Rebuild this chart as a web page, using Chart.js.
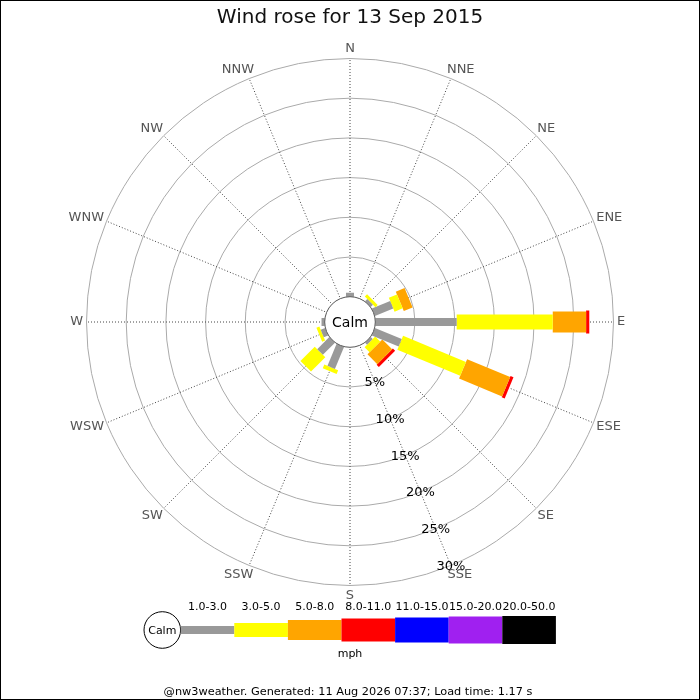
<!DOCTYPE html>
<html lang="en-GB">
<head>
  <meta charset="utf-8">
  <title>Wind rose for 13 Sep 2015</title>
  <script src="https://cdn.jsdelivr.net/npm/chart.js@4.4.1/dist/chart.umd.min.js"></script>
  <style>
    body { margin: 0; background: #fff; }
    canvas { display: block; }
  </style>
</head>
<body>
  <canvas id="rose" width="700" height="700"></canvas>

  <script>

    // compass points, clockwise from north
    let directions = ['N', 'NNE', 'NE', 'ENE', 'E', 'ESE', 'SE', 'SSE',
                      'S', 'SSW', 'SW', 'WSW', 'W', 'WNW', 'NW', 'NNW'];

    // % of the day per direction, one array per speed class (mph)
    let speed1to3   = [0.5, 0, 0.4, 2.5, 10.25, 3.66, 0.35, 0, 0, 3.0, 2.15, 0.6, 0.4, 0, 0, 0];
    let speed3to5   = [0, 0, 0.4, 1.1, 12.1, 8.57, 0.9, 0, 0, 0.5, 2.55, 0.4, 0, 0, 0, 0];
    let speed5to8   = [0, 0, 0, 1.2, 4.2, 5.87, 1.75, 0, 0, 0, 0, 0, 0, 0, 0, 0];
    let speed8to11  = [0, 0, 0, 0, 0.4, 0.4, 0.4, 0, 0, 0, 0, 0, 0, 0, 0, 0];
    let speed11to15 = [0, 0, 0, 0, 0, 0, 0, 0, 0, 0, 0, 0, 0, 0, 0, 0];
    let speed15to20 = [0, 0, 0, 0, 0, 0, 0, 0, 0, 0, 0, 0, 0, 0, 0, 0];
    let speed20to50 = [0, 0, 0, 0, 0, 0, 0, 0, 0, 0, 0, 0, 0, 0, 0, 0];

    let speedLabels = ['1.0-3.0', '3.0-5.0', '5.0-8.0', '8.0-11.0', '11.0-15.0', '15.0-20.0', '20.0-50.0'];
    let ringTicks = [5, 10, 15, 20, 25, 30];

    let speedSeries = [speed1to3, speed3to5, speed5to8, speed8to11, speed11to15, speed15to20, speed20to50];

    // look
    let speedColors = ['#999999', '#ffff00', '#ffa500', '#ff0000', '#0000ff', '#a020f0', '#000000'];
    let barWidths = [8, 15, 21, 23, 25, 27, 28];
    let keyHeights = [8, 14, 20, 23, 25, 27, 28];
    let FONT = '"DejaVu Sans", sans-serif';

    // geometry of the rose
    let CX = 350, CY = 322;
    let PX_PER_PCT = 7.94;
    let CALM = 25.3 / PX_PER_PCT;   // calm circle radius, in % units
    let SPAN = 40;
    let ringMax = ringTicks[ringTicks.length - 1];

    function polar(u, deg) {
      let a = deg * Math.PI / 180;
      return {x: u * Math.sin(a), y: u * Math.cos(a)};
    }

    let datasets = [];
    directions.forEach(function(dir, i) {
      let angle = i * 360 / directions.length;
      let cum = CALM;
      speedSeries.forEach(function(series, c) {
        let v = series[i];
        if (v > 0) {
          datasets.push({
            type: 'line',
            label: dir + ' ' + speedLabels[c],
            data: [polar(cum, angle), polar(cum + v, angle)],
            borderColor: speedColors[c],
            borderWidth: barWidths[c],
            borderCapStyle: 'butt',
            pointRadius: 0,
            showLine: true,
            fill: false
          });
        }
        cum += v;
      });
    });

    function toPx(chart, p) {
      return [chart.scales.x.getPixelForValue(p.x), chart.scales.y.getPixelForValue(p.y)];
    }

    function radiusPx(chart, u) {
      return chart.scales.x.getPixelForValue(u) - chart.scales.x.getPixelForValue(0);
    }

    let roseGrid = {
      id: 'roseGrid',
      beforeDatasetsDraw(chart) {
        let ctx = chart.ctx;
        let c = toPx(chart, {x: 0, y: 0});
        ctx.save();

        // rings
        ctx.strokeStyle = '#aaaaaa';
        ctx.lineWidth = 1;
        ringTicks.forEach(function(t) {
          ctx.beginPath();
          ctx.arc(c[0], c[1], radiusPx(chart, CALM + t), 0, 2 * Math.PI);
          ctx.stroke();
        });

        // spokes
        ctx.strokeStyle = '#444444';
        ctx.setLineDash([1, 2]);
        directions.forEach(function(dir, i) {
          let p = toPx(chart, polar(CALM + ringMax, i * 360 / directions.length));
          ctx.beginPath();
          ctx.moveTo(c[0], c[1]);
          ctx.lineTo(p[0], p[1]);
          ctx.stroke();
        });
        ctx.setLineDash([]);

        // compass labels, pushed out by their own size
        ctx.font = '13px ' + FONT;
        ctx.fillStyle = '#555555';
        ctx.textAlign = 'center';
        ctx.textBaseline = 'middle';
        let r0 = radiusPx(chart, CALM + ringMax) + 3.5;
        directions.forEach(function(dir, i) {
          let a = i * 2 * Math.PI / directions.length;
          let s = Math.sin(a), co = Math.cos(a);
          let w = ctx.measureText(dir).width;
          let x = c[0] + r0 * s + Math.sign(s) * w / 2 * Math.sqrt(Math.abs(s));
          let y = c[1] - r0 * co - Math.sign(co) * 6.5 * Math.abs(co);
          ctx.fillText(dir, x, y);
        });

        // ring values along SSE
        ctx.fillStyle = '#000000';
        ringTicks.forEach(function(t) {
          let p = toPx(chart, polar(CALM + t, 157.5));
          ctx.fillText(t + '%', p[0], p[1] + 1);
        });
        ctx.restore();
      },
      afterDatasetsDraw(chart) {
        let ctx = chart.ctx;
        let c = toPx(chart, {x: 0, y: 0});
        ctx.save();

        // calm circle
        ctx.beginPath();
        ctx.arc(c[0], c[1], radiusPx(chart, CALM), 0, 2 * Math.PI);
        ctx.fillStyle = '#ffffff';
        ctx.fill();
        ctx.strokeStyle = '#555555';
        ctx.lineWidth = 1;
        ctx.stroke();
        ctx.fillStyle = '#000000';
        ctx.font = '14px ' + FONT;
        ctx.textAlign = 'center';
        ctx.textBaseline = 'middle';
        ctx.fillText('Calm', c[0], c[1] + 1);

        // title
        ctx.fillStyle = '#111111';
        ctx.font = '20px ' + FONT;
        ctx.fillText('Wind rose for 13 Sep 2015', 350, 18);

        // speed key
        let keyY = 630, keyX = 180.7, boxW = 53.6;
        ctx.beginPath();
        ctx.arc(162.3, keyY, 18.3, 0, 2 * Math.PI);
        ctx.fillStyle = '#ffffff';
        ctx.fill();
        ctx.strokeStyle = '#000000';
        ctx.stroke();
        ctx.fillStyle = '#000000';
        ctx.font = '11px ' + FONT;
        ctx.fillText('Calm', 162.3, keyY + 1);
        speedLabels.forEach(function(lab, k) {
          let x0 = keyX + k * boxW;
          let h = keyHeights[k];
          ctx.fillStyle = speedColors[k];
          ctx.fillRect(x0, keyY - h / 2, boxW, h);
          ctx.fillStyle = '#000000';
          ctx.fillText(lab, x0 + boxW / 2, 607);
        });
        ctx.fillText('mph', 350, 654);

        // footer
        ctx.font = '11.3px ' + FONT;
        ctx.fillText('@nw3weather. Generated: 11 Aug 2026 07:37; Load time: 1.17 s', 348, 692);

        // frame
        ctx.strokeStyle = '#000000';
        ctx.lineWidth = 1;
        ctx.strokeRect(0.5, 0.5, 699, 699);
        ctx.restore();
      }
    };

    let chart = new Chart('rose', {
      type: 'scatter',
      data: {datasets: datasets},
      options: {
        responsive: false,
        animation: false,
        devicePixelRatio: 1,
        layout: {
          padding: {
            left: CX - SPAN * PX_PER_PCT,
            right: 700 - CX - SPAN * PX_PER_PCT,
            top: CY - SPAN * PX_PER_PCT,
            bottom: 700 - CY - SPAN * PX_PER_PCT
          }
        },
        scales: {
          x: {type: 'linear', min: -SPAN, max: SPAN, display: false},
          y: {type: 'linear', min: -SPAN, max: SPAN, display: false}
        },
        plugins: {
          legend: {display: false},
          title: {display: false},
          tooltip: {enabled: false}
        }
      },
      plugins: [roseGrid]
    });

  </script>
</body>
</html>
